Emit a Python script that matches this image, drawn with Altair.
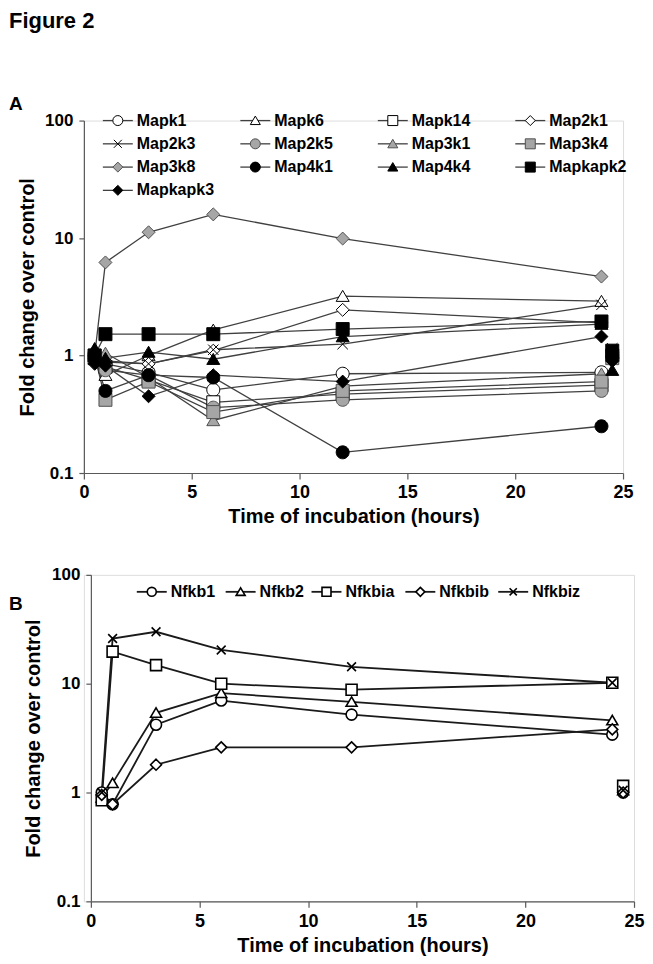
import altair as alt
import pandas as pd

# ---------------- data ----------------
times = [0.5, 1, 3, 6, 12, 24]
control_time = 24.5
x_ticks = [0, 5, 10, 15, 20, 25]
y_ticks = [0.1, 1, 10, 100]

genes_a = ["Mapk1", "Mapk6", "Mapk14", "Map2k1", "Map2k3", "Map2k5", "Map3k1",
           "Map3k4", "Map3k8", "Map4k1", "Map4k4", "Mapkapk2", "Mapkapk3"]
mapk1    = [1.00, 0.85, 0.72, 0.51, 0.70, 0.72]
mapk6    = [1.00, 0.68, 1.00, 1.65, 3.20, 2.90]
mapk14   = [0.95, 0.80, 0.62, 0.40, 0.47, 0.56]
map2k1   = [1.00, 0.90, 0.85, 1.10, 2.45, 1.90]
map2k3   = [0.95, 0.88, 0.85, 1.12, 1.25, 2.70]
map2k5   = [1.00, 0.75, 0.68, 0.36, 0.42, 0.50]
map3k1   = [1.05, 1.05, 0.65, 0.28, 0.55, 0.70]
map3k4   = [1.00, 0.42, 0.60, 0.33, 0.50, 0.60]
map3k8   = [1.00, 6.20, 11.2, 15.9, 9.90, 4.70]
map4k1   = [0.95, 0.50, 0.68, 0.65, 0.15, 0.25]
map4k4   = [1.15, 0.95, 1.07, 0.93, 1.45, 1.85]
mapkapk2 = [1.00, 1.52, 1.52, 1.52, 1.68, 1.95]
mapkapk3 = [0.85, 0.82, 0.45, 0.68, 0.60, 1.45]
values_a = [mapk1, mapk6, mapk14, map2k1, map2k3, map2k5, map3k1,
            map3k4, map3k8, map4k1, map4k4, mapkapk2, mapkapk3]
control_a = [0.95, 1.00, 1.00, 0.90, 1.15, 0.95, 1.00, 0.95, 1.00, 0.95, 0.75, 1.10, 0.90]

genes_b = ["Nfkb1", "Nfkb2", "Nfkbia", "Nfkbib", "Nfkbiz"]
nfkb1  = [1.00, 0.78, 4.2, 7.0, 5.2, 3.4]
nfkb2  = [0.90, 1.22, 5.4, 8.2, 6.8, 4.6]
nfkbia = [0.85, 19.7, 14.8, 10.0, 8.8, 10.2]
nfkbib = [0.95, 0.78, 1.8, 2.6, 2.6, 3.8]
nfkbiz = [1.00, 26.0, 30.0, 20.4, 14.3, 10.2]
values_b = [nfkb1, nfkb2, nfkbia, nfkbib, nfkbiz]
control_b = [1.00, 1.05, 1.15, 1.00, 1.05]

# ---------------- styles ----------------
FONT = "Liberation Sans"
AX = "#595959"
CIRCLE = "M1,0A1,1,0,1,1,-1,0A1,1,0,1,1,1,0Z"
TRIANGLE = "M0,-0.9L1,0.8L-1,0.8Z"
SQUARE = "square"
DIAMOND = "M0,-1L1,0L0,1L-1,0Z"
XMARK = "M-0.8,-0.8L0.8,0.8M-0.8,0.8L0.8,-0.8"
WHITE, GRAY, BLACK = "#ffffff", "#a6a6a6", "#000000"

shapes_a = [CIRCLE, TRIANGLE, SQUARE, DIAMOND, XMARK,
            CIRCLE, TRIANGLE, SQUARE, DIAMOND,
            CIRCLE, TRIANGLE, SQUARE, DIAMOND]
fills_a = [WHITE] * 4 + ["transparent"] + [GRAY] * 4 + [BLACK] * 4
strokes_a = [BLACK] * 5 + ["#505050"] * 4 + [BLACK] * 4

shapes_b = [CIRCLE, TRIANGLE, SQUARE, DIAMOND, XMARK]
fills_b = [WHITE] * 4 + ["transparent"]
strokes_b = [BLACK] * 5


def long_tables(genes, values, controls):
    line_rows, point_rows = [], []
    for g, vals, c in zip(genes, values, controls):
        for t, v in zip(times, vals):
            line_rows.append({"gene": g, "time": t, "fold": v})
            point_rows.append({"gene": g, "time": t, "fold": v})
        point_rows.append({"gene": g, "time": control_time, "fold": c})
    return pd.DataFrame(line_rows), pd.DataFrame(point_rows)


def make_panel(genes, values, controls, shapes, fills, strokes, x0, w, h,
               line_color, line_width, msize, mstroke, leg_x, leg_y, leg_size,
               ytitle_x, labels):
    """x0: left inset of the axis inside the view (pixels); w: width of the axis span."""
    lines_df, points_df = long_tables(genes, values, controls)
    xs = alt.Scale(domain=[0, 25], nice=False, zero=False, range=[x0, x0 + w])
    ys = alt.Scale(type="log", domain=[0.1, 100], nice=False)
    shape_sc = alt.Scale(domain=genes, range=shapes)
    fill_sc = alt.Scale(domain=genes, range=fills)
    stroke_sc = alt.Scale(domain=genes, range=strokes)

    xaxis = alt.Axis(values=x_ticks, title="Time of incubation (hours)", grid=False,
                     domainColor=AX, tickColor=AX, domainWidth=1.2, tickWidth=1.2,
                     tickSize=6, labelFont=FONT, labelFontSize=18, labelFontWeight="bold",
                     labelColor="black", labelPadding=5, labelFlush=False,
                     titleFont=FONT, titleFontSize=20, titleFontWeight="bold",
                     titleColor="black", titleX=x0 + w / 2, titleY=44,
                     titleAlign="center", titleBaseline="middle")
    yaxis = alt.Axis(values=y_ticks, format="~g", title="Fold change over control",
                     grid=False, domainColor=AX, tickColor=AX, domainWidth=1.2,
                     tickWidth=1.2, tickSize=5, labelFont=FONT, labelFontSize=17,
                     labelFontWeight="bold", labelColor="black", labelPadding=6,
                     titleFont=FONT, titleFontSize=20, titleFontWeight="bold",
                     titleColor="black", titleX=ytitle_x, titleY=h / 2, titleAngle=270,
                     titleAlign="center", titleBaseline="middle", offset=-x0)

    lines = alt.Chart(lines_df).mark_line(color=line_color, strokeWidth=line_width).encode(
        x=alt.X("time:Q", scale=xs, axis=xaxis),
        y=alt.Y("fold:Q", scale=ys, axis=yaxis),
        detail="gene:N",
        order="time:Q",
    )
    points = alt.Chart(points_df).mark_point(opacity=1, size=msize, strokeWidth=mstroke).encode(
        x=alt.X("time:Q", scale=xs, axis=xaxis),
        y=alt.Y("fold:Q", scale=ys, axis=yaxis),
        shape=alt.Shape("gene:N", scale=shape_sc, legend=None),
        fill=alt.Fill("gene:N", scale=fill_sc, legend=None),
        stroke=alt.Stroke("gene:N", scale=stroke_sc, legend=None),
    )

    leg_df = pd.DataFrame({"gene": genes, "cx": [v + x0 for v in leg_x], "cy": leg_y})
    leg_df["x1"] = leg_df["cx"] - 15
    leg_df["x2"] = leg_df["cx"] + 15
    leg_df["tx"] = leg_df["cx"] + 19

    leg_rules = alt.Chart(leg_df).mark_rule(color=line_color, strokeWidth=line_width).encode(
        x=alt.X("x1:Q", scale=None), x2="x2:Q", y=alt.Y("cy:Q", scale=None))
    leg_points = alt.Chart(leg_df).mark_point(opacity=1, size=leg_size, strokeWidth=mstroke).encode(
        x=alt.X("cx:Q", scale=None), y=alt.Y("cy:Q", scale=None),
        shape=alt.Shape("gene:N", scale=shape_sc, legend=None),
        fill=alt.Fill("gene:N", scale=fill_sc, legend=None),
        stroke=alt.Stroke("gene:N", scale=stroke_sc, legend=None),
    )
    leg_text = alt.Chart(leg_df).mark_text(align="left", baseline="middle", font=FONT,
                                           fontSize=16, fontWeight="bold", color="black").encode(
        x=alt.X("tx:Q", scale=None), y=alt.Y("cy:Q", scale=None), text="gene:N")

    layers = [lines, points, leg_rules, leg_points, leg_text]
    for txt, lx, ly, fs, bl in labels:
        layers.append(
            alt.Chart(pd.DataFrame({"label": [txt]})).mark_text(
                align="left", baseline=bl, font=FONT, fontSize=fs,
                fontWeight="bold", color="black").encode(
                x=alt.value(lx), y=alt.value(ly), text="label:N"))
    return alt.layer(*layers).properties(width=x0 + w, height=h)


# legend layout for panel A: 4 columns
leg_ax = [34 + 137.7 * (i % 4) for i in range(len(genes_a))]
leg_ay = [23.3 * (i // 4) for i in range(len(genes_a))]
panel_a = make_panel(genes_a, values_a, control_a, shapes_a, fills_a, strokes_a,
                     0, 540, 353, "#404040", 1.3, 169, 1.0, leg_ax, leg_ay, 100, -56,
                     [("Figure 2", -75, -110, 22, "top"), ("A", -75, -17, 19, "middle")])

leg_bx = [61, 150, 236, 330, 423]
leg_by = [17] * len(genes_b)
panel_b = make_panel(genes_b, values_b, control_b, shapes_b, fills_b, strokes_b,
                     7, 544, 327, "#1a1a1a", 1.8, 121, 1.6, leg_bx, leg_by, 81, -57,
                     [("B", -75, 29, 19, "middle")])

chart = alt.concat(panel_a, panel_b, columns=1, spacing=37, bounds="full",
                   padding={"left": 0, "top": 0, "right": 0, "bottom": 0}
                   ).configure_view(stroke=None).configure(background="white")

chart.save("out.html", embed_options={"renderer": "svg", "actions": False})
